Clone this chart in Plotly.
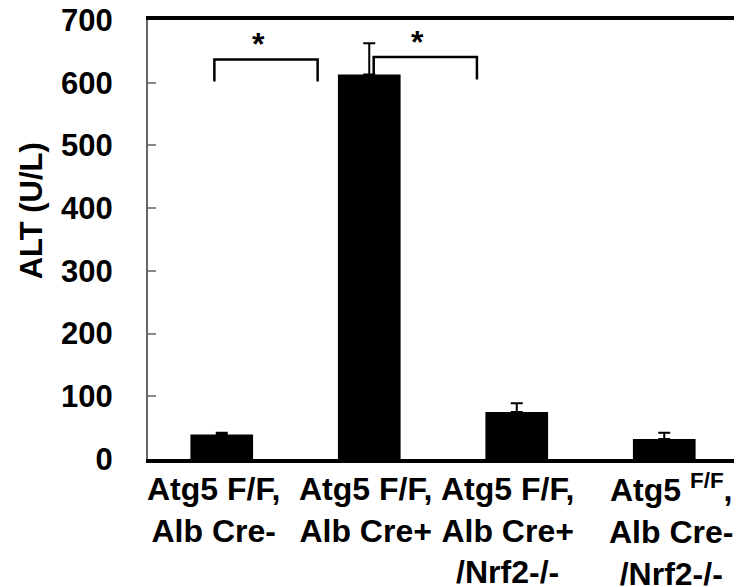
import plotly.graph_objects as go

# ---- data ----
categories = [
    "Atg5 F/F,<br>Alb Cre-",
    "Atg5 F/F,<br>Alb Cre+",
    "Atg5 F/F,<br>Alb Cre+<br>/Nrf2-/-",
    "Atg5 <sup>F/F</sup>,<br>Alb Cre-<br>/Nrf2-/-",
]
alt_mean = [39, 613, 75, 32]
alt_err = [3, 50, 14, 10]
y_ticks = [0, 100, 200, 300, 400, 500, 600, 700]

# nudges (px) of the category labels, as laid out in the original
label_dx = [-8, -4, -9, 7]
label_dy = [-10, -10, -10, -7]

# significance brackets: (x_left, x_right, y_top, y_left_end, y_right_end, star_x, star_y)
brackets = [
    (-0.05, 0.65, 637, 602, 602, 0.25, 661),
    (1.03, 1.73, 641, 612, 605, 1.33, 665),
]

FONT = "Liberation Sans, Arial, sans-serif"
xpos = list(range(len(categories)))

fig = go.Figure()
fig.add_trace(go.Bar(
    x=xpos, y=alt_mean, width=0.425,
    marker=dict(color="black", line=dict(width=0)),
    error_y=dict(type="data", array=alt_err, arrayminus=[0] * len(alt_err),
                 symmetric=False, color="black", thickness=2, width=6),
    showlegend=False,
))

for (xl, xr, yt, yle, yre, sx, sy) in brackets:
    fig.add_trace(go.Scatter(
        x=[xl, xl, xr, xr], y=[yle, yt, yt, yre], mode="lines",
        line=dict(color="black", width=2.5), showlegend=False, hoverinfo="skip",
    ))
    fig.add_annotation(x=sx, y=sy, text="*", showarrow=False,
                       xanchor="center", yanchor="middle",
                       font=dict(family=FONT, size=32, color="black", weight="bold"))

# category labels
for xi, lab, dx, dy in zip(xpos, categories, label_dx, label_dy):
    fig.add_annotation(x=xi, xref="x", y=0, yref="paper", text=lab,
                       xanchor="center", yanchor="top", align="center",
                       xshift=dx, yshift=dy, showarrow=False,
                       font=dict(family=FONT, size=32, color="black", weight="bold"))

# y label
fig.add_annotation(text="ALT (U/L)", xref="paper", yref="paper", x=-0.197, y=0.566,
                   xanchor="center", yanchor="middle",
                   textangle=-90, showarrow=False,
                   font=dict(family=FONT, size=31, color="black", weight="bold"))

# right border
fig.add_shape(type="line", xref="paper", yref="paper", x0=1, x1=1, y0=0, y1=1,
              line=dict(color="black", width=4))

fig.update_layout(
    width=742, height=587,
    margin=dict(l=140, r=12, t=12, b=136, autoexpand=False),
    paper_bgcolor="white", plot_bgcolor="white",
    xaxis=dict(
        range=[-0.5, 3.5], tickvals=xpos, showticklabels=False,
        showline=True, linecolor="black", linewidth=4, mirror=True,
        ticks="", showgrid=False, zeroline=False, automargin=False,
    ),
    yaxis=dict(
        range=[0, 700], tickvals=y_ticks, ticktext=[str(v) for v in y_ticks],
        showline=True, linecolor="#666666", linewidth=2,
        ticks="inside", ticklen=8, tickwidth=2, tickcolor="#888888",
        showgrid=False, zeroline=False, automargin=False,
        tickfont=dict(family=FONT, size=31, color="black", weight="bold"),
        ticklabelstandoff=27, ticklabeloverflow="allow",
    ),
)

fig.write_html("out.html")
